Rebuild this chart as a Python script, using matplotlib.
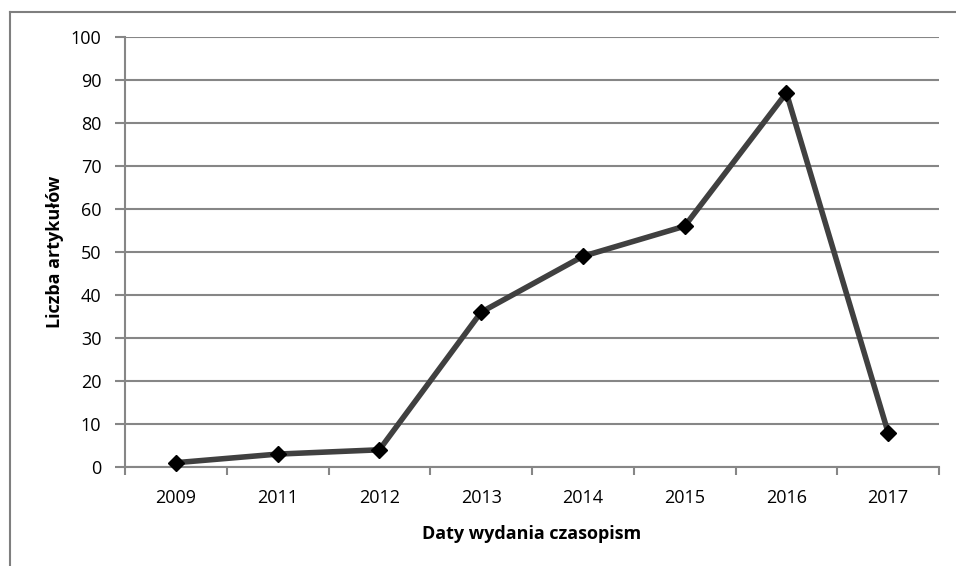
import matplotlib
matplotlib.use("Agg")
import matplotlib.pyplot as plt
from matplotlib.lines import Line2D
from matplotlib.ticker import FixedLocator, NullFormatter

years = ["2009", "2011", "2012", "2013", "2014", "2015", "2016", "2017"]
counts = [1, 3, 4, 36, 49, 56, 87, 8]
y_ticks = [0, 10, 20, 30, 40, 50, 60, 70, 80, 90, 100]

plt.rcParams['font.family'] = ['Open Sans', 'DejaVu Sans']

W, H = 956, 566
fig = plt.figure(figsize=(W / 100, H / 100), dpi=100)
fig.patch.set_facecolor("white")

# outer border (chart area frame, cut at right/bottom)
bc = "#7f7f7f"
fig.add_artist(Line2D([10 / W, 10 / W], [0, 1 - 12 / H], transform=fig.transFigure, color=bc, lw=1.5))
fig.add_artist(Line2D([10 / W, 1], [1 - 12 / H, 1 - 12 / H], transform=fig.transFigure, color=bc, lw=1.5))

left, right, top, bottom = 125, 939, 37, 467
ax = fig.add_axes([left / W, 1 - bottom / H, (right - left) / W, (bottom - top) / H])

x = list(range(len(years)))
ax.set_xlim(-0.5, len(years) - 0.5)
ax.set_ylim(0, 100)

gc = "#868686"
ax.set_yticks(y_ticks)
ax.set_yticklabels([str(v) for v in y_ticks])
ax.yaxis.grid(True, color=gc, lw=1.5)
ax.set_axisbelow(True)

fs = 13
ax.xaxis.set_major_locator(FixedLocator([i - 0.5 for i in range(len(years) + 1)]))
ax.xaxis.set_major_formatter(NullFormatter())
ax.xaxis.set_minor_locator(FixedLocator(x))
ax.set_xticklabels(years, minor=True)
ax.tick_params(axis="x", which="minor", length=0, pad=16, labelsize=fs, labelcolor="#000000")
ax.tick_params(axis="x", which="major", length=6, width=1.5, color=gc, direction="out")
ax.tick_params(axis="y", length=7, width=1.5, color=gc, labelsize=fs, pad=10, labelcolor="#000000")

for s in ["top", "right"]:
    ax.spines[s].set_visible(False)
for s in ["left", "bottom"]:
    ax.spines[s].set_color(gc)
    ax.spines[s].set_linewidth(1.5)

ax.plot(x, counts, color="#404040", lw=4, marker="D", markersize=8,
        markerfacecolor="black", markeredgecolor="black", zorder=5, clip_on=False)

ax.set_ylabel("Liczba artykułów", fontsize=fs, fontweight="bold", labelpad=5)
ax.set_xlabel("Daty wydania czasopism", fontsize=fs, fontweight="bold", labelpad=13)

fig.savefig("out.png", dpi=100, facecolor="white")
